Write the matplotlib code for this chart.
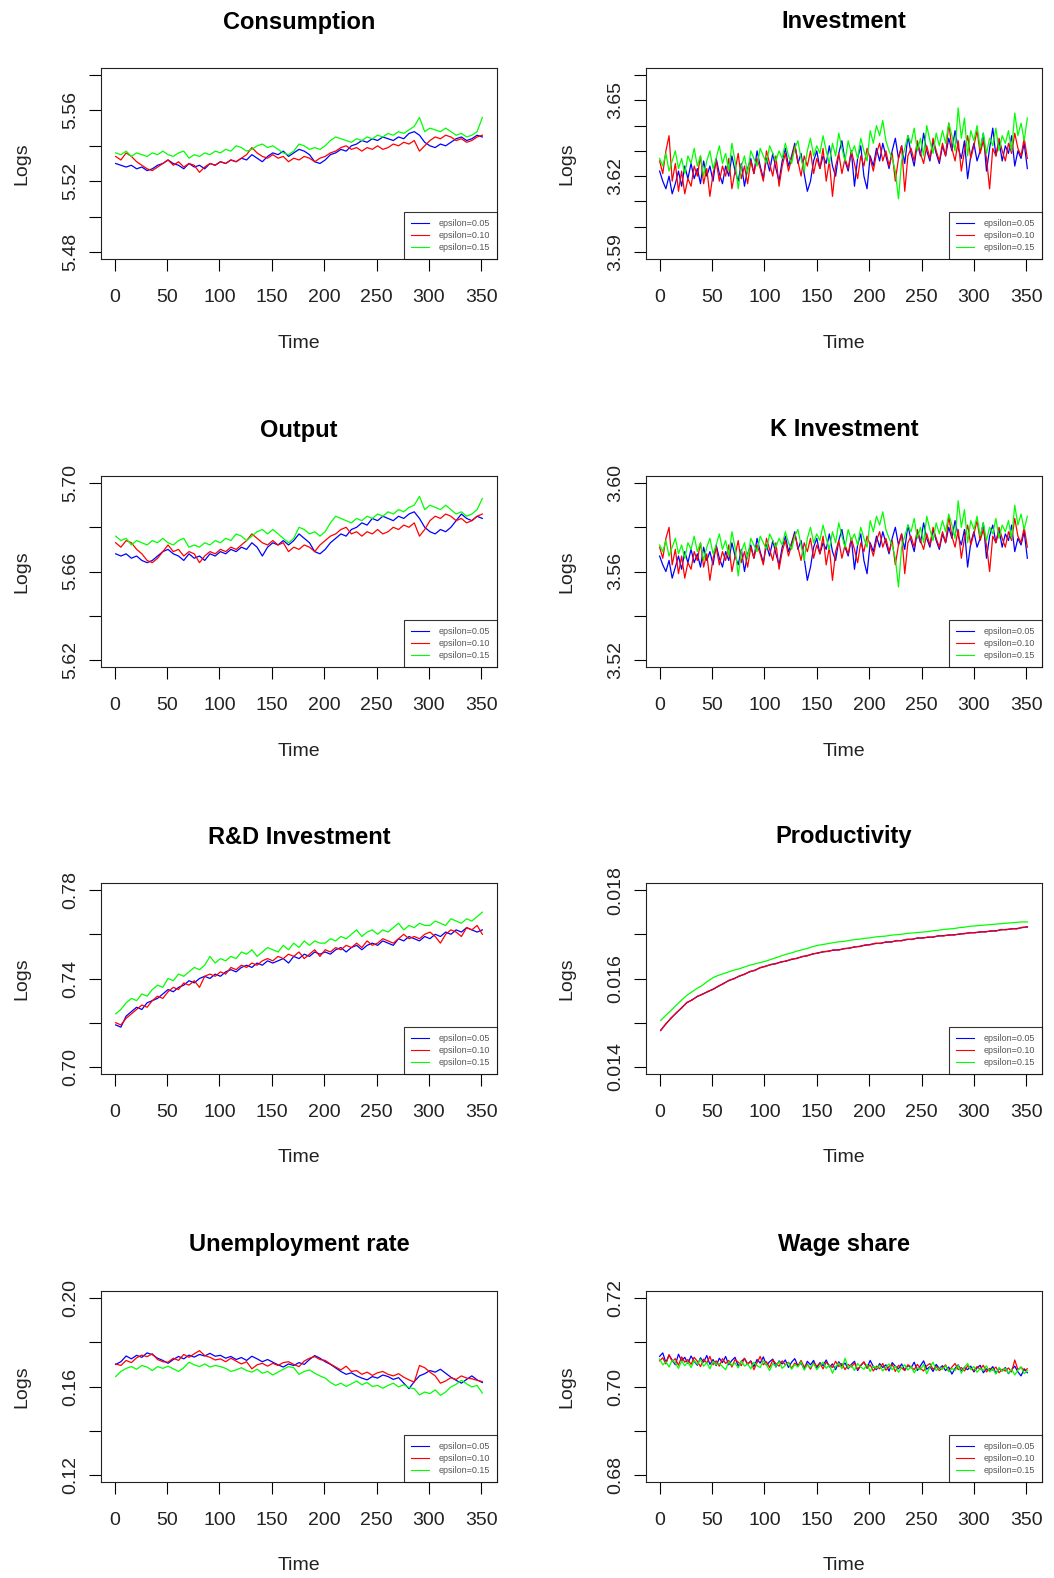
import matplotlib
matplotlib.use("Agg")
import matplotlib.pyplot as plt
import numpy as np

plt.rcParams['font.family'] = ['Liberation Sans', 'DejaVu Sans']

# time index: one reading every 5 periods for the smoother panels,
# every 3 periods for the very noisy ones
T5 = np.arange(1, 352, 5)
T3 = np.arange(0, 352, 3)

SERIES_LABELS = ["epsilon=0.05", "epsilon=0.10", "epsilon=0.15"]
SERIES_COLORS = ["#0000ff", "#ff0000", "#00ff00"]

TITLES = ["Consumption", "Investment", "Output", "K Investment",
          "R&D Investment", "Productivity", "Unemployment rate", "Wage share"]

# (low, high, step, label every n-th tick, decimals)
Y_AXES = [(5.48, 5.58, 0.02, 2, 2), (3.59, 3.66, 0.01, 3, 2),
          (5.62, 5.70, 0.02, 2, 2), (3.52, 3.60, 0.02, 2, 2),
          (0.70, 0.78, 0.02, 2, 2), (0.014, 0.018, 0.001, 2, 3),
          (0.12, 0.20, 0.02, 2, 2), (0.68, 0.72, 0.01, 2, 2)]

cons_05 = [5.530, 5.529, 5.528, 5.529, 5.527, 5.528, 5.526, 5.527, 5.529, 5.530,
           5.532, 5.530, 5.529, 5.527, 5.530, 5.528, 5.529, 5.527, 5.530, 5.529,
           5.531, 5.530, 5.532, 5.531, 5.533, 5.532, 5.535, 5.533, 5.531, 5.534,
           5.536, 5.535, 5.537, 5.534, 5.536, 5.538, 5.537, 5.535, 5.531, 5.530,
           5.532, 5.535, 5.536, 5.538, 5.537, 5.540, 5.541, 5.543, 5.542, 5.544,
           5.543, 5.545, 5.544, 5.543, 5.545, 5.544, 5.547, 5.548, 5.546, 5.542,
           5.540, 5.539, 5.541, 5.540, 5.542, 5.544, 5.545, 5.543, 5.544, 5.546,
           5.545]
cons_10 = [5.534, 5.532, 5.536, 5.534, 5.531, 5.529, 5.527, 5.526, 5.528, 5.530,
           5.532, 5.529, 5.531, 5.528, 5.530, 5.529, 5.525, 5.528, 5.530, 5.529,
           5.531, 5.530, 5.532, 5.531, 5.533, 5.535, 5.539, 5.536, 5.534, 5.533,
           5.535, 5.533, 5.534, 5.531, 5.533, 5.532, 5.534, 5.533, 5.531, 5.533,
           5.534, 5.536, 5.537, 5.539, 5.540, 5.538, 5.539, 5.537, 5.539, 5.538,
           5.540, 5.538, 5.539, 5.541, 5.540, 5.542, 5.541, 5.543, 5.537, 5.540,
           5.543, 5.545, 5.544, 5.546, 5.545, 5.543, 5.544, 5.542, 5.543, 5.545,
           5.546]
cons_15 = [5.536, 5.535, 5.537, 5.534, 5.536, 5.535, 5.534, 5.536, 5.535, 5.537,
           5.535, 5.534, 5.536, 5.537, 5.533, 5.535, 5.534, 5.536, 5.535, 5.537,
           5.536, 5.538, 5.537, 5.540, 5.539, 5.537, 5.538, 5.540, 5.541, 5.539,
           5.540, 5.538, 5.536, 5.535, 5.537, 5.541, 5.540, 5.538, 5.539, 5.538,
           5.540, 5.543, 5.545, 5.544, 5.543, 5.542, 5.544, 5.543, 5.545, 5.544,
           5.546, 5.545, 5.547, 5.546, 5.548, 5.547, 5.549, 5.551, 5.556, 5.548,
           5.550, 5.549, 5.548, 5.550, 5.548, 5.546, 5.547, 5.545, 5.546, 5.548,
           5.556]

inv_05 = [3.622, 3.618, 3.615, 3.620, 3.613, 3.617, 3.622, 3.616, 3.624, 3.619,
          3.625, 3.619, 3.623, 3.617, 3.626, 3.620, 3.624, 3.618, 3.627, 3.621,
          3.617, 3.624, 3.620, 3.628, 3.622, 3.618, 3.625, 3.616, 3.623, 3.627,
          3.621, 3.630, 3.624, 3.619, 3.627, 3.622, 3.629, 3.623, 3.618, 3.626,
          3.631, 3.624, 3.628, 3.633, 3.625, 3.629, 3.621, 3.614, 3.618, 3.626,
          3.630, 3.623, 3.628, 3.625, 3.632, 3.624, 3.620, 3.629, 3.634, 3.626,
          3.622, 3.630, 3.616, 3.627, 3.632, 3.620, 3.615, 3.628, 3.624, 3.631,
          3.626, 3.633, 3.628, 3.623, 3.630, 3.635, 3.627, 3.632, 3.625, 3.636,
          3.629, 3.624, 3.633, 3.628, 3.637, 3.630, 3.626, 3.634, 3.629, 3.625,
          3.632, 3.628, 3.635, 3.630, 3.638, 3.631, 3.627, 3.634, 3.619, 3.628,
          3.633, 3.626, 3.630, 3.637, 3.622, 3.631, 3.639, 3.628, 3.634, 3.626,
          3.632, 3.629, 3.636, 3.624, 3.630, 3.627, 3.633, 3.623]
inv_10 = [3.626, 3.621, 3.630, 3.636, 3.618, 3.625, 3.614, 3.622, 3.613, 3.619,
          3.616, 3.624, 3.620, 3.628, 3.617, 3.623, 3.612, 3.621, 3.626, 3.618,
          3.624, 3.620, 3.627, 3.615, 3.622, 3.629, 3.619, 3.624, 3.617, 3.626,
          3.621, 3.627, 3.623, 3.618, 3.630, 3.625, 3.620, 3.628, 3.616, 3.624,
          3.629, 3.622, 3.627, 3.632, 3.626, 3.620, 3.628, 3.624, 3.630, 3.621,
          3.627, 3.623, 3.631, 3.618, 3.626, 3.612, 3.624, 3.629, 3.621, 3.627,
          3.623, 3.630, 3.625, 3.619, 3.628, 3.624, 3.631, 3.627, 3.622, 3.629,
          3.633, 3.626, 3.630, 3.624, 3.629, 3.618, 3.627, 3.632, 3.614, 3.628,
          3.631, 3.626, 3.634, 3.629, 3.625, 3.632, 3.627, 3.635, 3.630, 3.626,
          3.633, 3.628, 3.641, 3.631, 3.626, 3.634, 3.622, 3.630, 3.636, 3.627,
          3.632, 3.638, 3.629, 3.634, 3.627, 3.615, 3.631, 3.628, 3.635, 3.630,
          3.626, 3.633, 3.629, 3.637, 3.631, 3.628, 3.635, 3.627]
inv_15 = [3.627, 3.624, 3.629, 3.622, 3.626, 3.630, 3.623, 3.627, 3.621, 3.628,
          3.625, 3.631, 3.624, 3.628, 3.620, 3.626, 3.630, 3.623, 3.627, 3.632,
          3.625, 3.629, 3.622, 3.633, 3.626, 3.615, 3.624, 3.628, 3.621, 3.630,
          3.627, 3.624, 3.631, 3.628, 3.625, 3.632, 3.629, 3.626, 3.630, 3.627,
          3.633, 3.628, 3.625, 3.631, 3.634, 3.627, 3.622, 3.630, 3.635, 3.628,
          3.632, 3.629, 3.636, 3.630, 3.625, 3.633, 3.628, 3.637, 3.631, 3.626,
          3.634, 3.629, 3.632, 3.627, 3.635, 3.630, 3.626, 3.638, 3.633, 3.640,
          3.636, 3.642, 3.634, 3.630, 3.627, 3.622, 3.611, 3.626, 3.631, 3.636,
          3.633, 3.639, 3.630, 3.635, 3.628, 3.640, 3.634, 3.629, 3.637, 3.632,
          3.638, 3.633, 3.641, 3.636, 3.630, 3.647, 3.635, 3.643, 3.628, 3.638,
          3.634, 3.640, 3.631, 3.637, 3.629, 3.635, 3.632, 3.639, 3.630, 3.636,
          3.633, 3.638, 3.630, 3.645, 3.636, 3.641, 3.634, 3.643]

out_05 = [5.668, 5.667, 5.668, 5.666, 5.667, 5.665, 5.664, 5.665, 5.667, 5.669,
          5.670, 5.668, 5.667, 5.665, 5.668, 5.666, 5.667, 5.665, 5.668, 5.667,
          5.669, 5.668, 5.670, 5.669, 5.671, 5.670, 5.673, 5.671, 5.667, 5.671,
          5.673, 5.672, 5.674, 5.672, 5.674, 5.677, 5.675, 5.673, 5.669, 5.668,
          5.670, 5.673, 5.675, 5.677, 5.676, 5.679, 5.680, 5.682, 5.681, 5.684,
          5.683, 5.685, 5.684, 5.683, 5.685, 5.684, 5.686, 5.687, 5.684, 5.680,
          5.678, 5.677, 5.679, 5.678, 5.680, 5.683, 5.686, 5.684, 5.683, 5.685,
          5.684]
out_10 = [5.673, 5.671, 5.674, 5.673, 5.670, 5.668, 5.665, 5.664, 5.666, 5.669,
          5.672, 5.669, 5.670, 5.667, 5.669, 5.668, 5.664, 5.667, 5.669, 5.668,
          5.670, 5.669, 5.671, 5.670, 5.672, 5.674, 5.677, 5.675, 5.673, 5.672,
          5.674, 5.672, 5.673, 5.669, 5.671, 5.670, 5.672, 5.671, 5.669, 5.672,
          5.674, 5.676, 5.677, 5.679, 5.680, 5.677, 5.678, 5.676, 5.678, 5.677,
          5.679, 5.677, 5.678, 5.680, 5.679, 5.681, 5.680, 5.682, 5.676, 5.679,
          5.683, 5.685, 5.684, 5.686, 5.685, 5.683, 5.684, 5.682, 5.683, 5.685,
          5.686]
out_15 = [5.676, 5.674, 5.675, 5.672, 5.674, 5.673, 5.672, 5.674, 5.673, 5.675,
          5.673, 5.672, 5.674, 5.675, 5.671, 5.672, 5.671, 5.673, 5.672, 5.674,
          5.673, 5.675, 5.674, 5.677, 5.676, 5.674, 5.676, 5.678, 5.679, 5.677,
          5.679, 5.677, 5.675, 5.673, 5.675, 5.680, 5.679, 5.677, 5.678, 5.676,
          5.678, 5.682, 5.685, 5.684, 5.683, 5.682, 5.684, 5.683, 5.685, 5.684,
          5.686, 5.685, 5.687, 5.686, 5.688, 5.687, 5.689, 5.690, 5.694, 5.688,
          5.690, 5.689, 5.688, 5.690, 5.688, 5.686, 5.687, 5.685, 5.686, 5.688,
          5.693]

kinv_05 = [3.567, 3.563, 3.560, 3.565, 3.557, 3.562, 3.567, 3.561, 3.569, 3.564,
           3.570, 3.564, 3.568, 3.562, 3.571, 3.565, 3.569, 3.563, 3.572, 3.566,
           3.562, 3.569, 3.565, 3.573, 3.567, 3.563, 3.570, 3.560, 3.568, 3.572,
           3.566, 3.575, 3.569, 3.564, 3.572, 3.567, 3.574, 3.568, 3.563, 3.571,
           3.576, 3.569, 3.573, 3.578, 3.570, 3.574, 3.566, 3.556, 3.562, 3.571,
           3.575, 3.568, 3.573, 3.570, 3.577, 3.569, 3.565, 3.574, 3.579, 3.571,
           3.567, 3.575, 3.561, 3.572, 3.577, 3.565, 3.559, 3.573, 3.569, 3.576,
           3.571, 3.578, 3.573, 3.568, 3.575, 3.580, 3.572, 3.577, 3.570, 3.581,
           3.574, 3.569, 3.578, 3.573, 3.582, 3.575, 3.571, 3.579, 3.574, 3.570,
           3.577, 3.573, 3.580, 3.575, 3.583, 3.576, 3.572, 3.579, 3.562, 3.573,
           3.578, 3.571, 3.575, 3.582, 3.566, 3.576, 3.581, 3.573, 3.579, 3.571,
           3.577, 3.574, 3.581, 3.569, 3.575, 3.572, 3.578, 3.566]
kinv_10 = [3.571, 3.566, 3.575, 3.580, 3.563, 3.570, 3.559, 3.567, 3.557, 3.564,
           3.561, 3.569, 3.565, 3.573, 3.562, 3.568, 3.556, 3.566, 3.571, 3.563,
           3.569, 3.565, 3.572, 3.560, 3.567, 3.574, 3.564, 3.569, 3.562, 3.571,
           3.566, 3.572, 3.568, 3.563, 3.575, 3.570, 3.565, 3.573, 3.561, 3.569,
           3.574, 3.567, 3.572, 3.577, 3.571, 3.565, 3.573, 3.569, 3.575, 3.566,
           3.572, 3.568, 3.576, 3.563, 3.571, 3.556, 3.569, 3.574, 3.566, 3.572,
           3.568, 3.575, 3.570, 3.564, 3.573, 3.569, 3.576, 3.572, 3.567, 3.574,
           3.578, 3.571, 3.575, 3.569, 3.574, 3.563, 3.572, 3.577, 3.559, 3.573,
           3.576, 3.571, 3.579, 3.574, 3.570, 3.577, 3.572, 3.580, 3.575, 3.571,
           3.578, 3.573, 3.585, 3.576, 3.571, 3.579, 3.566, 3.575, 3.581, 3.572,
           3.577, 3.583, 3.574, 3.579, 3.572, 3.560, 3.576, 3.573, 3.580, 3.575,
           3.571, 3.578, 3.574, 3.584, 3.576, 3.573, 3.580, 3.571]
kinv_15 = [3.572, 3.569, 3.574, 3.567, 3.571, 3.575, 3.568, 3.572, 3.566, 3.573,
           3.570, 3.576, 3.569, 3.573, 3.565, 3.571, 3.575, 3.568, 3.572, 3.577,
           3.570, 3.574, 3.567, 3.578, 3.571, 3.558, 3.569, 3.573, 3.566, 3.575,
           3.572, 3.569, 3.576, 3.573, 3.570, 3.577, 3.574, 3.571, 3.575, 3.572,
           3.578, 3.573, 3.570, 3.576, 3.579, 3.572, 3.565, 3.575, 3.580, 3.573,
           3.577, 3.574, 3.581, 3.575, 3.570, 3.578, 3.573, 3.582, 3.576, 3.571,
           3.579, 3.574, 3.577, 3.572, 3.580, 3.575, 3.571, 3.583, 3.578, 3.585,
           3.581, 3.587, 3.579, 3.575, 3.572, 3.566, 3.553, 3.571, 3.576, 3.581,
           3.578, 3.584, 3.575, 3.580, 3.573, 3.585, 3.579, 3.574, 3.582, 3.577,
           3.583, 3.578, 3.586, 3.581, 3.575, 3.592, 3.580, 3.588, 3.573, 3.583,
           3.579, 3.585, 3.576, 3.582, 3.574, 3.580, 3.577, 3.584, 3.575, 3.581,
           3.578, 3.583, 3.575, 3.590, 3.581, 3.586, 3.579, 3.585]

rd_05 = [0.719, 0.718, 0.723, 0.725, 0.727, 0.726, 0.729, 0.730, 0.731, 0.733,
         0.735, 0.734, 0.736, 0.737, 0.739, 0.738, 0.740, 0.741, 0.740, 0.742,
         0.741, 0.743, 0.744, 0.743, 0.745, 0.746, 0.745, 0.747, 0.746, 0.748,
         0.747, 0.748, 0.749, 0.747, 0.750, 0.749, 0.751, 0.750, 0.752, 0.751,
         0.752, 0.751, 0.753, 0.754, 0.752, 0.754, 0.755, 0.753, 0.755, 0.756,
         0.755, 0.757, 0.756, 0.755, 0.758, 0.757, 0.759, 0.758, 0.757, 0.759,
         0.758, 0.760, 0.759, 0.761, 0.760, 0.762, 0.761, 0.763, 0.762, 0.761,
         0.762]
rd_10 = [0.720, 0.719, 0.722, 0.724, 0.726, 0.728, 0.727, 0.730, 0.732, 0.731,
         0.734, 0.736, 0.735, 0.738, 0.737, 0.739, 0.736, 0.741, 0.742, 0.741,
         0.743, 0.742, 0.745, 0.744, 0.746, 0.745, 0.747, 0.746, 0.748, 0.749,
         0.748, 0.750, 0.749, 0.751, 0.750, 0.752, 0.749, 0.751, 0.753, 0.750,
         0.753, 0.752, 0.754, 0.753, 0.755, 0.754, 0.756, 0.754, 0.757, 0.755,
         0.756, 0.758, 0.757, 0.756, 0.758, 0.760, 0.758, 0.759, 0.758, 0.760,
         0.761, 0.759, 0.756, 0.760, 0.762, 0.761, 0.759, 0.763, 0.762, 0.764,
         0.760]
rd_15 = [0.724, 0.726, 0.729, 0.731, 0.730, 0.733, 0.732, 0.735, 0.737, 0.736,
         0.740, 0.739, 0.742, 0.741, 0.743, 0.745, 0.744, 0.746, 0.750, 0.747,
         0.749, 0.748, 0.750, 0.749, 0.752, 0.751, 0.753, 0.750, 0.752, 0.754,
         0.753, 0.752, 0.755, 0.753, 0.756, 0.754, 0.757, 0.755, 0.757, 0.756,
         0.756, 0.758, 0.757, 0.759, 0.758, 0.760, 0.762, 0.759, 0.761, 0.762,
         0.760, 0.762, 0.761, 0.763, 0.765, 0.762, 0.764, 0.763, 0.765, 0.764,
         0.764, 0.766, 0.765, 0.764, 0.767, 0.766, 0.765, 0.767, 0.766, 0.768,
         0.770]

prod_05 = [0.01483, 0.01497, 0.01511, 0.01522, 0.01534, 0.01545, 0.01552, 0.01559, 0.01565, 0.01570,
           0.01576, 0.01582, 0.01589, 0.01595, 0.01600, 0.01605, 0.01610, 0.01615, 0.01619, 0.01624,
           0.01628, 0.01631, 0.01634, 0.01637, 0.01640, 0.01643, 0.01646, 0.01649, 0.01652, 0.01655,
           0.01658, 0.01660, 0.01662, 0.01664, 0.01665, 0.01667, 0.01669, 0.01671, 0.01673, 0.01675,
           0.01677, 0.01679, 0.01680, 0.01682, 0.01683, 0.01685, 0.01686, 0.01688, 0.01689, 0.01691,
           0.01692, 0.01693, 0.01694, 0.01696, 0.01697, 0.01698, 0.01699, 0.01700, 0.01702, 0.01703,
           0.01704, 0.01705, 0.01706, 0.01707, 0.01708, 0.01710, 0.01711, 0.01712, 0.01713, 0.01715,
           0.01717]
prod_10 = [0.01482, 0.01498, 0.01510, 0.01523, 0.01533, 0.01546, 0.01551, 0.01560, 0.01564, 0.01571,
           0.01575, 0.01583, 0.01588, 0.01596, 0.01599, 0.01606, 0.01609, 0.01616, 0.01618, 0.01625,
           0.01627, 0.01632, 0.01633, 0.01638, 0.01639, 0.01644, 0.01645, 0.01650, 0.01651, 0.01656,
           0.01657, 0.01661, 0.01661, 0.01665, 0.01664, 0.01668, 0.01668, 0.01672, 0.01672, 0.01676,
           0.01676, 0.01680, 0.01679, 0.01683, 0.01682, 0.01686, 0.01685, 0.01689, 0.01688, 0.01692,
           0.01691, 0.01694, 0.01693, 0.01697, 0.01696, 0.01699, 0.01698, 0.01701, 0.01701, 0.01704,
           0.01703, 0.01706, 0.01705, 0.01708, 0.01707, 0.01711, 0.01710, 0.01713, 0.01712, 0.01716,
           0.01716]
prod_15 = [0.01505, 0.01517, 0.01528, 0.01540, 0.01551, 0.01562, 0.01570, 0.01578, 0.01585, 0.01594,
           0.01602, 0.01607, 0.01611, 0.01615, 0.01619, 0.01622, 0.01626, 0.01630, 0.01633, 0.01636,
           0.01639, 0.01643, 0.01647, 0.01651, 0.01655, 0.01658, 0.01662, 0.01665, 0.01668, 0.01672,
           0.01675, 0.01677, 0.01679, 0.01681, 0.01683, 0.01684, 0.01686, 0.01688, 0.01689, 0.01691,
           0.01692, 0.01694, 0.01695, 0.01696, 0.01698, 0.01699, 0.01700, 0.01702, 0.01703, 0.01704,
           0.01705, 0.01706, 0.01708, 0.01709, 0.01711, 0.01712, 0.01713, 0.01715, 0.01716, 0.01718,
           0.01719, 0.01720, 0.01721, 0.01722, 0.01723, 0.01724, 0.01725, 0.01726, 0.01727, 0.01728,
           0.01728]

unemp_05 = [0.1700, 0.1712, 0.1738, 0.1725, 0.1741, 0.1732, 0.1752, 0.1744, 0.1728, 0.1718,
            0.1705, 0.1722, 0.1736, 0.1725, 0.1742, 0.1733, 0.1745, 0.1738, 0.1750, 0.1737,
            0.1741, 0.1728, 0.1736, 0.1722, 0.1731, 0.1718, 0.1737, 0.1725, 0.1712, 0.1722,
            0.1710, 0.1698, 0.1688, 0.1702, 0.1695, 0.1708, 0.1700, 0.1722, 0.1740, 0.1728,
            0.1712, 0.1700, 0.1684, 0.1668, 0.1655, 0.1662, 0.1648, 0.1638, 0.1630, 0.1645,
            0.1638, 0.1652, 0.1645, 0.1632, 0.1640, 0.1615, 0.1590, 0.1622, 0.1648, 0.1658,
            0.1672, 0.1665, 0.1678, 0.1660, 0.1642, 0.1628, 0.1615, 0.1632, 0.1648, 0.1630,
            0.1618]
unemp_10 = [0.1702, 0.1695, 0.1718, 0.1708, 0.1730, 0.1742, 0.1735, 0.1748, 0.1722, 0.1712,
            0.1710, 0.1728, 0.1718, 0.1745, 0.1732, 0.1748, 0.1762, 0.1740, 0.1732, 0.1720,
            0.1725, 0.1712, 0.1728, 0.1715, 0.1702, 0.1712, 0.1680, 0.1698, 0.1705, 0.1692,
            0.1705, 0.1695, 0.1708, 0.1712, 0.1700, 0.1690, 0.1715, 0.1728, 0.1735, 0.1722,
            0.1718, 0.1702, 0.1688, 0.1675, 0.1692, 0.1668, 0.1672, 0.1655, 0.1665, 0.1650,
            0.1662, 0.1668, 0.1655, 0.1648, 0.1658, 0.1642, 0.1630, 0.1620, 0.1695, 0.1685,
            0.1665, 0.1648, 0.1615, 0.1625, 0.1640, 0.1632, 0.1648, 0.1638, 0.1635, 0.1628,
            0.1622]
unemp_15 = [0.1645, 0.1668, 0.1682, 0.1690, 0.1678, 0.1695, 0.1688, 0.1672, 0.1690, 0.1682,
            0.1692, 0.1680, 0.1668, 0.1685, 0.1710, 0.1698, 0.1690, 0.1702, 0.1688, 0.1695,
            0.1690, 0.1682, 0.1668, 0.1675, 0.1685, 0.1672, 0.1665, 0.1678, 0.1660, 0.1668,
            0.1652, 0.1665, 0.1678, 0.1690, 0.1685, 0.1655, 0.1668, 0.1675, 0.1660, 0.1648,
            0.1638, 0.1618, 0.1605, 0.1615, 0.1600, 0.1612, 0.1625, 0.1608, 0.1618, 0.1600,
            0.1605, 0.1592, 0.1605, 0.1615, 0.1598, 0.1608, 0.1595, 0.1590, 0.1562, 0.1575,
            0.1568, 0.1585, 0.1560, 0.1575, 0.1598, 0.1610, 0.1628, 0.1612, 0.1598, 0.1605,
            0.1570]

wage_05 = [0.7068, 0.7076, 0.7054, 0.7071, 0.7060, 0.7049, 0.7073, 0.7058, 0.7066, 0.7052,
           0.7069, 0.7057, 0.7048, 0.7065, 0.7055, 0.7070, 0.7050, 0.7061, 0.7047, 0.7064,
           0.7054, 0.7068, 0.7049, 0.7059, 0.7066, 0.7046, 0.7057, 0.7063, 0.7050, 0.7058,
           0.7045, 0.7061, 0.7053, 0.7067, 0.7048, 0.7056, 0.7062, 0.7044, 0.7058, 0.7051,
           0.7060, 0.7043, 0.7055, 0.7063, 0.7047, 0.7053, 0.7040, 0.7057, 0.7049, 0.7059,
           0.7042, 0.7054, 0.7047, 0.7060, 0.7044, 0.7051, 0.7038, 0.7056, 0.7046, 0.7053,
           0.7040, 0.7050, 0.7057, 0.7036, 0.7048, 0.7055, 0.7042, 0.7059, 0.7045, 0.7038,
           0.7052, 0.7043, 0.7049, 0.7035, 0.7054, 0.7046, 0.7040, 0.7051, 0.7037, 0.7048,
           0.7042, 0.7055, 0.7036, 0.7047, 0.7058, 0.7039, 0.7045, 0.7034, 0.7050, 0.7041,
           0.7047, 0.7036, 0.7044, 0.7028, 0.7041, 0.7049, 0.7035, 0.7043, 0.7038, 0.7046,
           0.7033, 0.7042, 0.7048, 0.7031, 0.7040, 0.7036, 0.7045, 0.7030, 0.7041, 0.7035,
           0.7043, 0.7029, 0.7038, 0.7046, 0.7033, 0.7024, 0.7040, 0.7031]
wage_10 = [0.7058, 0.7065, 0.7051, 0.7072, 0.7056, 0.7063, 0.7048, 0.7067, 0.7055, 0.7061,
           0.7050, 0.7066, 0.7057, 0.7045, 0.7062, 0.7053, 0.7068, 0.7049, 0.7058, 0.7046,
           0.7063, 0.7052, 0.7059, 0.7044, 0.7061, 0.7055, 0.7047, 0.7064, 0.7051, 0.7057,
           0.7038, 0.7054, 0.7068, 0.7049, 0.7056, 0.7043, 0.7060, 0.7052, 0.7046, 0.7058,
           0.7049, 0.7055, 0.7041, 0.7053, 0.7047, 0.7059, 0.7044, 0.7051, 0.7039, 0.7054,
           0.7046, 0.7052, 0.7040, 0.7055, 0.7048, 0.7043, 0.7057, 0.7045, 0.7052, 0.7038,
           0.7050, 0.7044, 0.7053, 0.7039, 0.7047, 0.7056, 0.7041, 0.7049, 0.7035, 0.7046,
           0.7040, 0.7052, 0.7037, 0.7045, 0.7050, 0.7034, 0.7048, 0.7042, 0.7036, 0.7049,
           0.7044, 0.7038, 0.7050, 0.7041, 0.7035, 0.7047, 0.7052, 0.7039, 0.7045, 0.7036,
           0.7042, 0.7049, 0.7034, 0.7044, 0.7052, 0.7038, 0.7043, 0.7035, 0.7047, 0.7040,
           0.7036, 0.7045, 0.7039, 0.7048, 0.7033, 0.7041, 0.7037, 0.7044, 0.7031, 0.7039,
           0.7035, 0.7042, 0.7033, 0.7060, 0.7038, 0.7044, 0.7036, 0.7040]
wage_15 = [0.7062, 0.7049, 0.7056, 0.7044, 0.7060, 0.7053, 0.7041, 0.7058, 0.7047, 0.7055,
           0.7043, 0.7059, 0.7050, 0.7062, 0.7046, 0.7054, 0.7040, 0.7057, 0.7049, 0.7052,
           0.7045, 0.7038, 0.7056, 0.7048, 0.7053, 0.7042, 0.7058, 0.7046, 0.7051, 0.7040,
           0.7055, 0.7047, 0.7043, 0.7058, 0.7049, 0.7036, 0.7052, 0.7045, 0.7057, 0.7041,
           0.7048, 0.7054, 0.7039, 0.7050, 0.7044, 0.7056, 0.7037, 0.7049, 0.7043, 0.7052,
           0.7038, 0.7047, 0.7055, 0.7041, 0.7049, 0.7030, 0.7045, 0.7053, 0.7040, 0.7064,
           0.7042, 0.7048, 0.7036, 0.7052, 0.7044, 0.7039, 0.7050, 0.7034, 0.7046, 0.7041,
           0.7048, 0.7035, 0.7044, 0.7051, 0.7038, 0.7046, 0.7032, 0.7043, 0.7049, 0.7037,
           0.7045, 0.7031, 0.7042, 0.7038, 0.7050, 0.7029, 0.7044, 0.7055, 0.7036, 0.7043,
           0.7039, 0.7047, 0.7033, 0.7041, 0.7036, 0.7048, 0.7030, 0.7044, 0.7052, 0.7038,
           0.7045, 0.7032, 0.7041, 0.7036, 0.7047, 0.7033, 0.7040, 0.7028, 0.7043, 0.7035,
           0.7041, 0.7030, 0.7039, 0.7026, 0.7037, 0.7044, 0.7029, 0.7036]

PANELS = [(T5, cons_05, cons_10, cons_15), (T3, inv_05, inv_10, inv_15),
          (T5, out_05, out_10, out_15), (T3, kinv_05, kinv_10, kinv_15),
          (T5, rd_05, rd_10, rd_15), (T5, prod_05, prod_10, prod_15),
          (T5, unemp_05, unemp_10, unemp_15), (T3, wage_05, wage_10, wage_15)]

W, H = 1054, 1578
fig = plt.figure(figsize=(W / 100, H / 100), dpi=100)

# plot-box geometry in pixels
col_left = [101, 646]
row_top = [68, 476, 883, 1291]
box_w, box_h = 396, 191

for k, (title, panel, yax) in enumerate(zip(TITLES, PANELS, Y_AXES)):
    r, c = divmod(k, 2)
    ax = fig.add_axes([col_left[c] / W, 1 - (row_top[r] + box_h) / H,
                       box_w / W, box_h / H])

    t = panel[0]
    for vals, col, lab in zip(panel[1:], SERIES_COLORS, SERIES_LABELS):
        ax.plot(t, vals, color=col, lw=0.9, label=lab)

    lo, hi, step, every, dec = yax
    pad = 0.04 * (hi - lo)
    ax.set_ylim(lo - pad, hi + pad)
    ax.set_xlim(1 - 14, 351 + 14)

    yt = np.round(np.arange(lo, hi + step / 2, step), 6)
    ax.set_yticks(yt)
    ax.set_yticklabels([f"{v:.{dec}f}" if i % every == 0 else ""
                        for i, v in enumerate(yt)])
    ax.set_xticks(np.arange(0, 351, 50))

    ax.tick_params(direction="out", length=8.5, width=0.8, labelsize=14,
                   color="black", labelcolor="#222222")
    ax.tick_params(axis="x", pad=13)
    ax.tick_params(axis="y", pad=7)
    for lbl in ax.get_yticklabels():
        lbl.set_rotation(90)
        lbl.set_va("center")
    for s in ax.spines.values():
        s.set_linewidth(0.8)
        s.set_color("#222222")

    ax.text(0.5, 1 + 46 / box_h, title, transform=ax.transAxes,
            ha="center", va="center", fontsize=17, fontweight="bold")
    ax.text(0.5, -84 / box_h, "Time", transform=ax.transAxes,
            ha="center", va="center", fontsize=14, color="#222222")
    ax.text(-79 / box_w, 0.5, "Logs", transform=ax.transAxes, rotation=90,
            ha="center", va="center", fontsize=14, color="#222222")

    leg = ax.legend(loc="lower right", fontsize=6.5, frameon=True,
                    fancybox=False, borderaxespad=0, handlelength=2.0,
                    handletextpad=1.0, labelspacing=0.3, borderpad=0.8,
                    labelcolor="#555555")
    leg.get_frame().set_edgecolor("black")
    leg.get_frame().set_linewidth(0.8)
    for ln in leg.get_lines():
        ln.set_linewidth(0.8)

fig.savefig("out.png", dpi=100)
